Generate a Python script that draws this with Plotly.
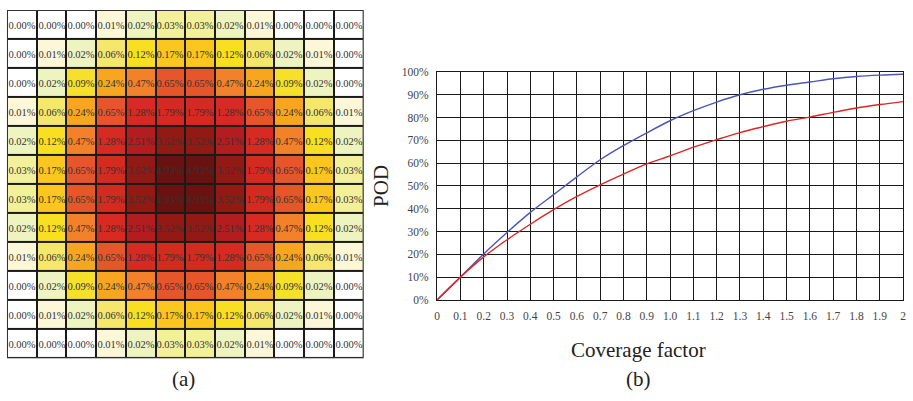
import plotly.graph_objects as go

# ---- data: heatmap (a) ----
row0 = [0.00, 0.00, 0.00, 0.01, 0.02, 0.03, 0.03, 0.02, 0.01, 0.00, 0.00, 0.00]
row1 = [0.00, 0.01, 0.02, 0.06, 0.12, 0.17, 0.17, 0.12, 0.06, 0.02, 0.01, 0.00]
row2 = [0.00, 0.02, 0.09, 0.24, 0.47, 0.65, 0.65, 0.47, 0.24, 0.09, 0.02, 0.00]
row3 = [0.01, 0.06, 0.24, 0.65, 1.28, 1.79, 1.79, 1.28, 0.65, 0.24, 0.06, 0.01]
row4 = [0.02, 0.12, 0.47, 1.28, 2.51, 3.52, 3.52, 2.51, 1.28, 0.47, 0.12, 0.02]
row5 = [0.03, 0.17, 0.65, 1.79, 3.52, 4.93, 4.93, 3.52, 1.79, 0.65, 0.17, 0.03]
heat_rows = [row0, row1, row2, row3, row4, row5, row5, row4, row3, row2, row1, row0]

# colour levels (value -> colour)
level_values = [0.00, 0.01, 0.02, 0.03, 0.06, 0.09, 0.12, 0.17, 0.24, 0.47, 0.65,
                1.28, 1.79, 2.51, 3.52, 4.93]
level_colors = ["#ffffff", "#fcf7d6", "#eef4c0", "#f3f09a", "#f5e66c", "#f5e02a",
                "#f9df22", "#fbc61d", "#f8a620", "#f2812a", "#e6562a",
                "#d62a22", "#d42a20", "#b31d1f", "#931a14", "#6a1210"]

# ---- data: POD curves (b) ----
coverage = [0.0, 0.1, 0.2, 0.3, 0.4, 0.5, 0.6, 0.7, 0.8, 0.9, 1.0,
            1.1, 1.2, 1.3, 1.4, 1.5, 1.6, 1.7, 1.8, 1.9, 2.0]
pod_blue = [0.0, 10.0, 20.2, 29.6, 38.4, 46.2, 54.0, 61.5, 67.7, 73.3, 78.6,
            83.0, 86.8, 90.0, 92.4, 94.2, 95.6, 97.0, 98.0, 98.6, 99.0]
pod_red = [0.0, 10.0, 18.9, 26.4, 33.2, 39.6, 45.4, 50.5, 55.2, 59.7, 63.2,
           67.0, 70.3, 73.4, 76.0, 78.4, 80.2, 82.3, 84.2, 85.7, 87.0]
x_tickvals = coverage
x_ticktext = ["0", "0.1", "0.2", "0.3", "0.4", "0.5", "0.6", "0.7", "0.8", "0.9", "1.0",
              "1.1", "1.2", "1.3", "1.4", "1.5", "1.6", "1.7", "1.8", "1.9", "2"]
y_tickvals = [0, 10, 20, 30, 40, 50, 60, 70, 80, 90, 100]
y_ticktext = ["0%", "10%", "20%", "30%", "40%", "50%", "60%", "70%", "80%", "90%", "100%"]

SERIF = "Liberation Serif"
W, H = 913, 401

vmax = max(level_values)
colorscale = [[v / vmax, c] for v, c in zip(level_values, level_colors)]

fig = go.Figure()

fig.add_trace(go.Heatmap(
    z=heat_rows,
    x=list(range(12)), y=list(range(12)),
    colorscale=colorscale, zmin=0, zmax=vmax, showscale=False,
    xgap=2, ygap=2,
    texttemplate="%{z:.2f}%",
    textfont=dict(family=SERIF, size=10.5, color="#333333"),
    hoverinfo="skip",
    xaxis="x", yaxis="y",
))

fig.add_trace(go.Scatter(x=coverage, y=pod_blue, mode="lines",
                         line=dict(color="#4a56b8", width=1.4, shape="spline"),
                         xaxis="x2", yaxis="y2", showlegend=False))
fig.add_trace(go.Scatter(x=coverage, y=pod_red, mode="lines",
                         line=dict(color="#dc2626", width=1.4, shape="spline"),
                         xaxis="x2", yaxis="y2", showlegend=False))

def px_x(p):
    return p / W

def px_y(p):
    return 1 - p / H

fig.update_layout(
    width=W, height=H,
    margin=dict(l=0, r=0, t=0, b=0),
    paper_bgcolor="white", plot_bgcolor="white",
    showlegend=False,
    xaxis=dict(domain=[px_x(4), px_x(363)], range=[-0.5, 11.5], showgrid=False,
               zeroline=False, showticklabels=False, ticks=""),
    yaxis=dict(domain=[px_y(363), px_y(4)], range=[11.5, -0.5], showgrid=False,
               zeroline=False, showticklabels=False, ticks=""),
    xaxis2=dict(domain=[px_x(437), px_x(906)], range=[0, 2], anchor="y2",
                tickvals=x_tickvals, ticktext=x_ticktext,
                ticklabeloverflow="allow",
                tickfont=dict(family=SERIF, size=11.5, color="#444444"),
                ticks="outside", ticklen=5, tickcolor="rgba(0,0,0,0)",
                showgrid=True, gridcolor="#1a1a1a", gridwidth=1.4,
                zeroline=False, showline=True, linecolor="#1a1a1a", linewidth=1.4,
                mirror=True),
    yaxis2=dict(domain=[px_y(303), px_y(68)], range=[0, 100], anchor="x2",
                tickvals=y_tickvals, ticktext=y_ticktext,
                tickfont=dict(family=SERIF, size=11.5, color="#444444"),
                ticks="outside", ticklen=5, tickcolor="rgba(0,0,0,0)",
                showgrid=True, gridcolor="#1a1a1a", gridwidth=1.4,
                zeroline=False, showline=True, linecolor="#1a1a1a", linewidth=1.4,
                mirror=True),
    shapes=[
        dict(type="rect", xref="x", yref="y", x0=-0.5, x1=11.5, y0=-0.5, y1=11.5,
             fillcolor="#1a1a1a", line=dict(width=0), layer="below"),
        dict(type="rect", xref="x", yref="y", x0=-0.5, x1=11.5, y0=-0.5, y1=11.5,
             fillcolor="rgba(0,0,0,0)", line=dict(color="#333333", width=2), layer="above"),
    ],
    annotations=[
        dict(text="(a)", x=px_x(182), y=px_y(385), xref="paper", yref="paper",
             xanchor="center", yanchor="middle",
             showarrow=False, font=dict(family=SERIF, size=21, color="#222222")),
        dict(text="(b)", x=px_x(640), y=px_y(385), xref="paper", yref="paper",
             xanchor="center", yanchor="middle",
             showarrow=False, font=dict(family=SERIF, size=21, color="#222222")),
        dict(text="Coverage factor", x=px_x(640), y=px_y(355), xref="paper", yref="paper",
             xanchor="center", yanchor="middle",
             showarrow=False, font=dict(family=SERIF, size=21, color="#222222")),
        dict(text="POD", x=px_x(381), y=px_y(185), xref="paper", yref="paper",
             xanchor="center", yanchor="middle",
             textangle=-90, showarrow=False, font=dict(family=SERIF, size=21, color="#222222")),
    ],
)

fig.write_html("out.html",
               config={"displayModeBar": False},
               post_script="document.body.style.margin='0';document.body.style.overflow='hidden';")
